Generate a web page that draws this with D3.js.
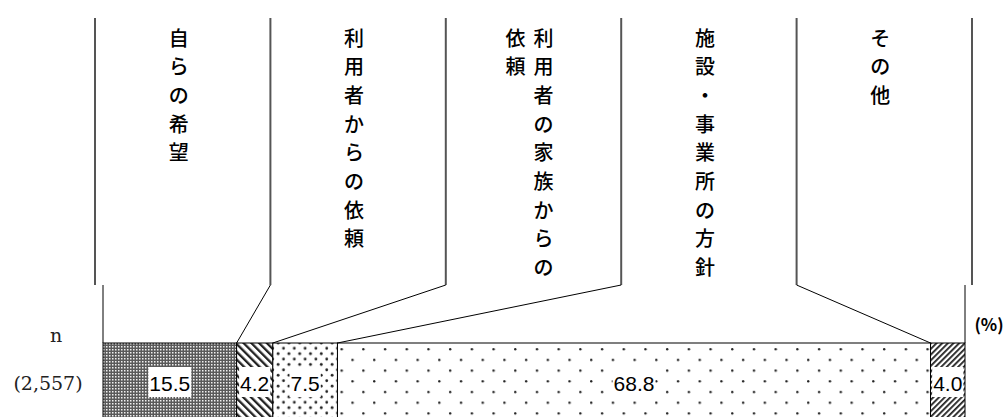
<!DOCTYPE html>
<html>
<head>
<meta charset="utf-8">
<script src="https://cdn.jsdelivr.net/npm/d3@7"></script>
<style>
  html, body { margin: 0; padding: 0; background: #fff; }
</style>
</head>
<body>
<div id="chart"></div>
<script>
// data
var categories = ['自らの希望', '利用者からの依頼', '利用者の家族からの依頼', '施設・事業所の方針', 'その他'];
var values = [15.5, 4.2, 7.5, 68.8, 4.0];
var nLabel = 'n';
var sampleLabel = '(2,557)';
var unitLabel = '(%)';

var width = 1004,
    height = 417,
    barTop = 343,
    barHeight = 80,
    bracketTop = 18,
    bracketBottom = 285,
    charStep = 28.7,
    colStep = 28,
    maxChars = 9;

var svg = d3.select('#chart')
  .append('svg')
  .attr('width', width)
  .attr('height', height);

var x = d3.scaleLinear().domain([0, 100]).range([103, 965]);
var slot = d3.scaleBand().domain(categories).range([95, 972]);

// patterns
var defs = svg.append('defs');

var p0 = defs.append('pattern').attr('id', 'pat0')
  .attr('patternUnits', 'userSpaceOnUse').attr('width', 3).attr('height', 3);
p0.append('rect').attr('width', 3).attr('height', 3).attr('fill', '#5a5a5a');
p0.append('rect').attr('x', 1).attr('y', 1).attr('width', 1.5).attr('height', 1.5).attr('fill', '#f0f0f0');

var p1 = defs.append('pattern').attr('id', 'pat1')
  .attr('patternUnits', 'userSpaceOnUse').attr('width', 5.5).attr('height', 5.5)
  .attr('patternTransform', 'rotate(-45)');
p1.append('rect').attr('width', 5.5).attr('height', 5.5).attr('fill', '#fff');
p1.append('rect').attr('width', 2.3).attr('height', 5.5).attr('fill', '#222');

var p2 = defs.append('pattern').attr('id', 'pat2')
  .attr('patternUnits', 'userSpaceOnUse').attr('width', 10.8).attr('height', 10.8);
p2.append('rect').attr('width', 10.8).attr('height', 10.8).attr('fill', '#fff');
p2.append('circle').attr('cx', 2.7).attr('cy', 2.7).attr('r', 1.4).attr('fill', '#222');
p2.append('circle').attr('cx', 8.1).attr('cy', 8.1).attr('r', 1.4).attr('fill', '#222');

var p3 = defs.append('pattern').attr('id', 'pat3')
  .attr('patternUnits', 'userSpaceOnUse').attr('width', 21.7).attr('height', 21.4)
  .attr('x', x(27.2) + 3).attr('y', barTop + 5);
p3.append('rect').attr('width', 21.7).attr('height', 21.4).attr('fill', '#fff');
p3.append('circle').attr('cx', 1.2).attr('cy', 1.2).attr('r', 1.2).attr('fill', '#222');
p3.append('circle').attr('cx', 12.05).attr('cy', 11.9).attr('r', 1.2).attr('fill', '#222');

var p4 = defs.append('pattern').attr('id', 'pat4')
  .attr('patternUnits', 'userSpaceOnUse').attr('width', 4).attr('height', 4)
  .attr('patternTransform', 'rotate(45)');
p4.append('rect').attr('width', 4).attr('height', 4).attr('fill', '#fff');
p4.append('rect').attr('width', 1.8).attr('height', 4).attr('fill', '#222');

// segments
var acc = 0;
var segs = values.map(function (v, i) {
  var s = {cat: categories[i], v: v, x0: acc, x1: acc + v, i: i};
  acc += v;
  return s;
});

svg.selectAll('rect.seg').data(segs)
  .enter().append('rect')
  .attr('class', 'seg')
  .attr('x', function (d) { return x(d.x0); })
  .attr('y', barTop)
  .attr('width', function (d) { return x(d.x1) - x(d.x0); })
  .attr('height', barHeight)
  .attr('fill', function (d) { return 'url(#pat' + d.i + ')'; })
  .attr('stroke', '#000')
  .attr('stroke-width', 1);

// value labels with white boxes
var vl = svg.selectAll('g.val').data(segs)
  .enter().append('g').attr('class', 'val');
vl.append('rect').attr('fill', '#fff');
vl.append('text')
  .attr('x', function (d) { return (x(d.x0) + x(d.x1)) / 2; })
  .attr('y', barTop + 40)
  .attr('text-anchor', 'middle')
  .attr('dominant-baseline', 'central')
  .style('font-family', '"Liberation Sans", Arial, sans-serif')
  .style('font-size', '21px')
  .text(function (d) { return d.v.toFixed(1); });
vl.each(function () {
  var g = d3.select(this);
  var b = g.select('text').node().getBBox();
  g.select('rect')
    .attr('x', b.x - 1).attr('y', barTop + 24)
    .attr('width', b.width + 2).attr('height', 30);
});

// bracket lines
var bracketX = categories.map(function (c) { return slot(c); }).concat([slot.range()[1]]);
var bounds = [0].concat(segs.map(function (d) { return d.x1; }));

svg.selectAll('line.bracket').data(bracketX)
  .enter().append('line')
  .attr('class', 'bracket')
  .attr('x1', function (d) { return d; })
  .attr('x2', function (d) { return d; })
  .attr('y1', bracketTop)
  .attr('y2', bracketBottom)
  .attr('stroke', '#555')
  .attr('stroke-width', 2);

// connectors from bracket foot to segment boundaries
svg.selectAll('line.conn').data(bounds)
  .enter().append('line')
  .attr('class', 'conn')
  .attr('x1', function (d, i) {
    return (i === 0 || i === bounds.length - 1) ? x(d) : bracketX[i];
  })
  .attr('y1', bracketBottom)
  .attr('x2', function (d) { return x(d); })
  .attr('y2', barTop)
  .attr('stroke', '#000')
  .attr('stroke-width', 1);

// vertical category labels
categories.forEach(function (c) {
  var cols = [];
  for (var k = 0; k < c.length; k += maxChars) cols.push(c.slice(k, k + maxChars));
  var cx = slot(c) + slot.bandwidth() / 2 - 4 + (cols.length - 1) * colStep / 2;
  cols.forEach(function (col, ci) {
    col.split('').forEach(function (ch, j) {
      svg.append('text')
        .attr('x', cx - ci * colStep)
        .attr('y', 37 + j * charStep)
        .attr('text-anchor', 'middle')
        .attr('dominant-baseline', 'central')
        .style('font-family', '"Noto Sans CJK JP", sans-serif')
        .style('font-size', '20px')
        .style('font-weight', '500')
        .text(ch);
    });
  });
});

// n labels
svg.append('text')
  .attr('x', 56).attr('y', 335)
  .attr('text-anchor', 'middle')
  .attr('dominant-baseline', 'central')
  .style('font-family', '"DejaVu Serif", serif')
  .style('font-size', '19px')
  .style('fill', '#222')
  .text(nLabel);
svg.append('text')
  .attr('x', 48).attr('y', 383)
  .attr('text-anchor', 'middle')
  .attr('dominant-baseline', 'central')
  .style('font-family', '"DejaVu Serif", serif')
  .style('font-size', '19px')
  .style('fill', '#222')
  .text(sampleLabel);

svg.append('text')
  .attr('x', 989).attr('y', 323)
  .attr('text-anchor', 'middle')
  .attr('dominant-baseline', 'central')
  .style('font-family', '"Noto Sans CJK JP", sans-serif')
  .style('font-size', '17px')
  .style('font-weight', 'bold')
  .text(unitLabel);
</script>
</body>
</html>
